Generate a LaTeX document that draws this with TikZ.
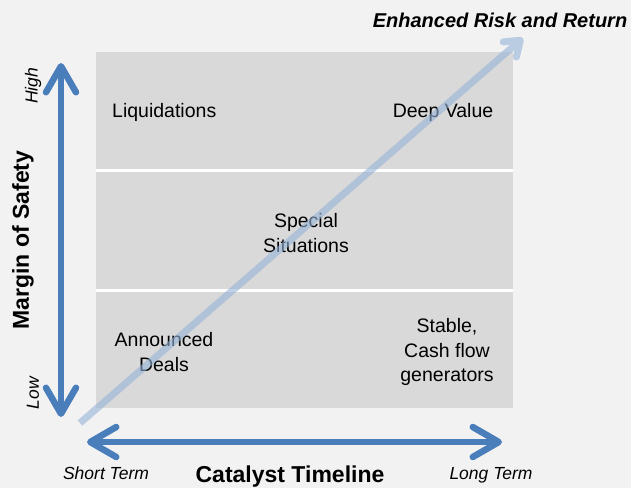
\documentclass[tikz,border=0pt]{standalone}
\usepackage{fontspec}
\setmainfont{Liberation Sans}
\usetikzlibrary{arrows.meta}
\definecolor{bggray}{RGB}{242,242,242}
\definecolor{boxgray}{RGB}{217,217,217}
\definecolor{axisblue}{RGB}{74,126,187}
\definecolor{paleblue}{RGB}{149,179,215}

\tikzset{
  mainaxis/.style={line width=6.5pt, axisblue,
    {Straight Barb[length=26pt,width=30pt,round]}-{Straight Barb[length=26pt,width=30pt,round]}},
  riskline/.style={line width=7pt, paleblue, line cap=butt,
    -{Straight Barb[length=14pt,width=20pt,round]}},
  cell/.style={font=\fontsize{19.5}{24.5}\selectfont, align=center, inner sep=0pt},
  axistitle/.style={font=\fontsize{23}{27}\selectfont\bfseries, inner sep=0pt},
  endlabel/.style={font=\fontsize{17.5}{21}\selectfont\itshape, inner sep=0pt}
}

\begin{document}
\begin{tikzpicture}[x=1pt,y=-1pt]

% background
\fill [bggray] (0,0) rectangle (631,488);
\useasboundingbox (0,0) rectangle (631,488);

% grid of strategies
\fill [boxgray] (96,52) rectangle (513,408);
\draw [white,line width=3pt] (96,170) -- (513,170);
\draw [white,line width=3pt] (96,290) -- (513,290);

%% cell texts
\node [cell,anchor=west] (liquid) at (112,112) {Liquidations};
\node [cell] (deepval) at (443,112) {Deep Value};
\node [cell] (special) at (306,233) {Special\\Situations};
\node [cell] (announced) at (164,352) {Announced\\Deals};
\node [cell] (stable) at (447,352) {Stable,\\Cash flow\\generators};

%% risk and return arrow
\coordinate (riskstart) at (80,423);
\coordinate (riskend) at (523,38);
\begin{scope}[transparency group,opacity=0.6]
\draw [riskline] (riskstart) -- (riskend);
\end{scope}
\node [font=\fontsize{20}{24}\selectfont\bfseries\itshape,inner sep=0pt,anchor=base]
  (risklabel) at (500,27) {Enhanced Risk and Return};

%% axes
% vertical
\coordinate (safetop) at (61,63);
\coordinate (safebot) at (61,417);
\draw [mainaxis] (safetop) -- (safebot);
\node [axistitle,rotate=90] (safety) at (23,240) {Margin of Safety};
\node [endlabel,rotate=90] (high) at (33,86) {High};
\node [endlabel,rotate=90] (low) at (33,393) {Low};
% horizontal
\coordinate (timeleft) at (87,442);
\coordinate (timeright) at (502,442);
\draw [mainaxis] (timeleft) -- (timeright);
\node [axistitle,anchor=base] (catalyst) at (290,482) {Catalyst Timeline};
\node [endlabel,anchor=base] (short) at (106,479) {Short Term};
\node [endlabel,anchor=base] (long) at (491,479) {Long Term};

\end{tikzpicture}
\end{document}
